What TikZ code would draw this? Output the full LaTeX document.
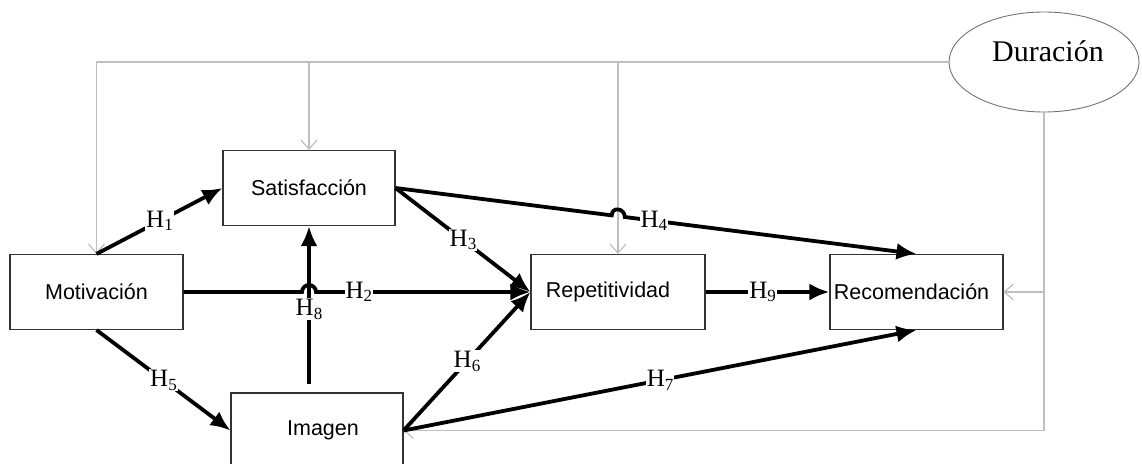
\documentclass[tikz,border=0pt]{standalone}
\usepackage{fontspec}
\setmainfont{Liberation Serif}
\setsansfont{Liberation Sans}
\usetikzlibrary{arrows.meta,shapes.geometric,calc}
\newcommand\hyp[1]{H\raisebox{-3.5pt}{\fontsize{17}{17}\selectfont #1}}
\begin{document}
\begin{tikzpicture}[x=1pt,y=-1pt,
  box/.style={draw=black!80,line width=1.1pt,fill=white,minimum width=173pt,minimum height=75pt,inner sep=0pt,font=\sffamily\fontsize{21.5}{24}\selectfont},
  blk/.style={line width=3.8pt,-{Latex[length=20pt,width=17pt]}},
  gr/.style={draw=black!25,line width=1.2pt},
  grarr/.style={gr,-{Straight Barb[length=9pt,width=16pt]}},
  lab/.style={fill=white,inner sep=1pt,font=\fontsize{25}{27}\selectfont}]
\useasboundingbox (0,0) rectangle (1142,463);
% nodes
\node[box] (mot) at (96.5,292) {Motivación};
\node[box,minimum width=172pt] (sat) at (309,188) {Satisfacción};
\node[box,minimum width=172pt] (img) at (317,430.5) {Imagen\hspace*{-12pt}};
\node[box,minimum width=174pt] (rep) at (618,292) {Repetitividad\hspace*{20pt}};
\node[box] (rec) at (916.5,292) {Recomendación\hspace*{10pt}};
\node[ellipse,draw=black!55,line width=0.9pt,minimum width=190pt,minimum height=100pt] (dur) at (1044,62) {};
\node[anchor=base,font=\fontsize{30}{32}\selectfont] (durt) at (1048,61) {Duración};
% gray moderator lines
\draw[grarr] (dur.west) -- (mot.north |- dur.west) -- (mot.north);
\draw[grarr] (sat.north |- dur.west) -- (sat.north);
\draw[grarr] (rep.north |- dur.west) -- (rep.north);
\draw[grarr] (dur.south) -- (dur.south |- img.east) -- (img.east);
\draw[grarr] (dur.south |- rec.east) -- (rec.east);
% black hypotheses
\coordinate (x8) at (sat.south |- mot.east);
\coordinate (h4a) at ($(sat.east)!0.415!(rec.north)$);
\coordinate (h4b) at ($(sat.east)!0.44!(rec.north)$);
\draw[blk,shorten <=8pt] (img.north -| sat.south) -- node[lab,pos=0.5]{\hyp8} (sat.south);
\draw[blk] (mot.north) -- node[lab]{\hyp1} (sat.west);
\draw[blk] (mot.east) -- ([xshift=-7pt]x8) arc[start angle=180,end angle=360,radius=7] -- node[lab,pos=0.2]{\hyp2} (rep.west);
\draw[blk] (sat.east) -- node[lab]{\hyp3} (rep.west);
\draw[blk] (sat.east) -- (h4a) .. controls +(0,-9) and +(0,-9) .. (h4b) -- node[lab,pos=0.1]{\hyp4} (rec.north);
\draw[blk] (mot.south) -- node[lab]{\hyp5} (img.west);
\draw[blk] (img.east) -- node[lab]{\hyp6} (rep.west);
\draw[blk] (img.east) -- node[lab]{\hyp7} (rec.south);
\draw[blk] (rep.east) -- node[lab,pos=0.46]{\hyp9} (rec.west);
\end{tikzpicture}
\end{document}
